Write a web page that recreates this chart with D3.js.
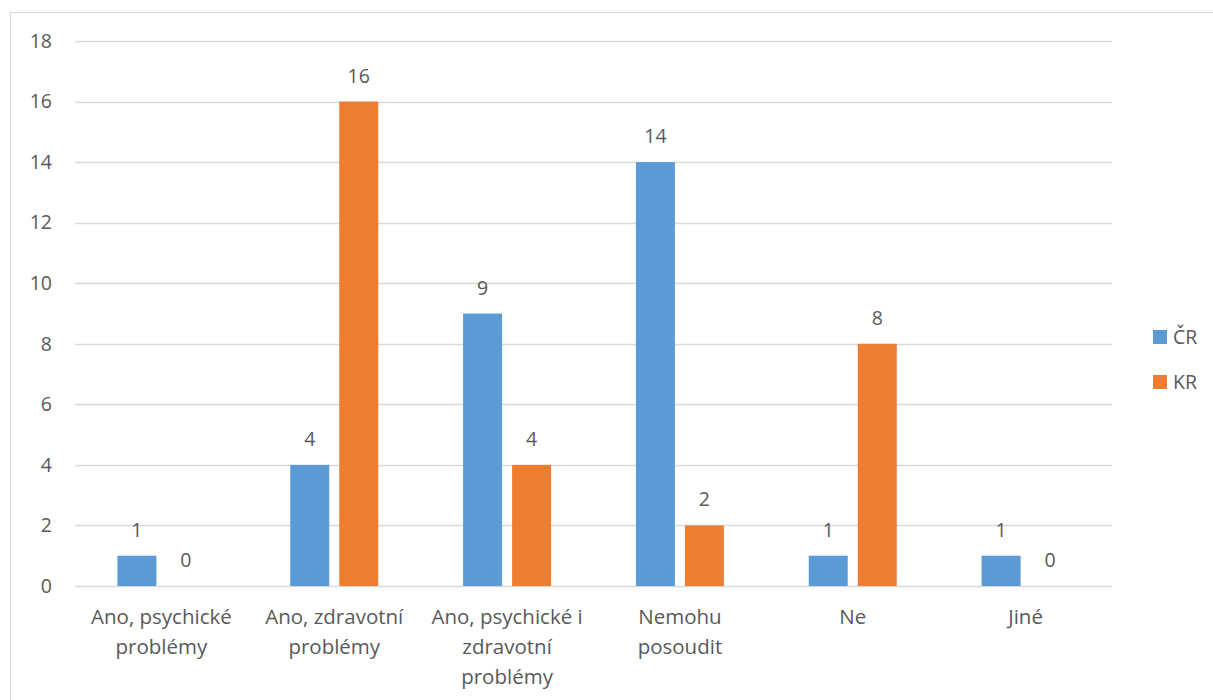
<!DOCTYPE html>
<html><head><meta charset="utf-8">
<script src="https://cdn.jsdelivr.net/npm/d3@7"></script>
<style>body{margin:0;background:#fff}svg text{font-family:"Open Sans",sans-serif;fill:#595959}</style>
</head><body>
<svg id="c" width="1213" height="700"></svg>
<script>
const categories = [["Ano, psychické","problémy"],["Ano, zdravotní","problémy"],["Ano, psychické i","zdravotní","problémy"],["Nemohu","posoudit"],["Ne"],["Jiné"]];
const seriesNames = ["ČR","KR"];
const cr = [1,4,9,14,1,1];
const kr = [0,16,4,2,8,0];
const yTicks = [0,2,4,6,8,10,12,14,16,18];
const colors = ["#5B9BD5","#ED7D31"];

(function(){
const svg = d3.select("#c");
svg.append("rect").attr("x",10.5).attr("y",12.5).attr("width",1210).attr("height",700).attr("fill","none").attr("stroke","#D9D9D9");

const pL=75,pR=1112,pT=41,pB=586;
const x = d3.scaleBand().domain(d3.range(categories.length)).range([pL,pR]).padding(0);
const y = d3.scaleLinear().domain([0,18]).range([pB,pT]);

svg.append("g").selectAll("line").data(yTicks).join("line")
  .attr("x1",pL).attr("x2",pR).attr("y1",d=>Math.round(y(d))+0.5).attr("y2",d=>Math.round(y(d))+0.5)
  .attr("stroke","#D9D9D9").attr("stroke-width",1.3);
svg.append("g").selectAll("text").data(yTicks).join("text")
  .attr("x",52).attr("y",d=>y(d)).attr("dy","0.35em").attr("text-anchor","end").attr("font-size",19.5).text(d=>d);

const bw = x.bandwidth()*0.2257, gap = 10;
const series=[cr,kr];
series.forEach((vals,si)=>{
  const g = svg.append("g");
  const bx = i => x(i)+x.bandwidth()/2 + (si===0 ? -gap/2-bw : gap/2);
  g.selectAll("rect").data(vals).join("rect")
    .attr("x",(d,i)=>bx(i)).attr("width",bw)
    .attr("y",d=>y(d)).attr("height",d=>y(0)-y(d)).attr("fill",colors[si]);
  g.selectAll("text").data(vals).join("text")
    .attr("x",(d,i)=>bx(i)+bw/2).attr("y",d=>y(d)-19).attr("text-anchor","middle").attr("font-size",19.5).text(d=>d);
});

const cl = svg.append("g");
categories.forEach((lines,i)=>{
  const t = cl.append("text").attr("text-anchor","middle").attr("font-size",20.5);
  lines.forEach((l,j)=>t.append("tspan").attr("x",x(i)+x.bandwidth()/2).attr("y",624+j*30).text(l));
});

const lg = svg.append("g");
seriesNames.forEach((n,i)=>{
  lg.append("rect").attr("x",1153).attr("y",330+i*45).attr("width",14).attr("height",14).attr("fill",colors[i]);
  lg.append("text").attr("x",1173).attr("y",337+i*45).attr("dy","0.35em").attr("font-size",19.5).text(n);
});
})();
</script>
</body></html>
